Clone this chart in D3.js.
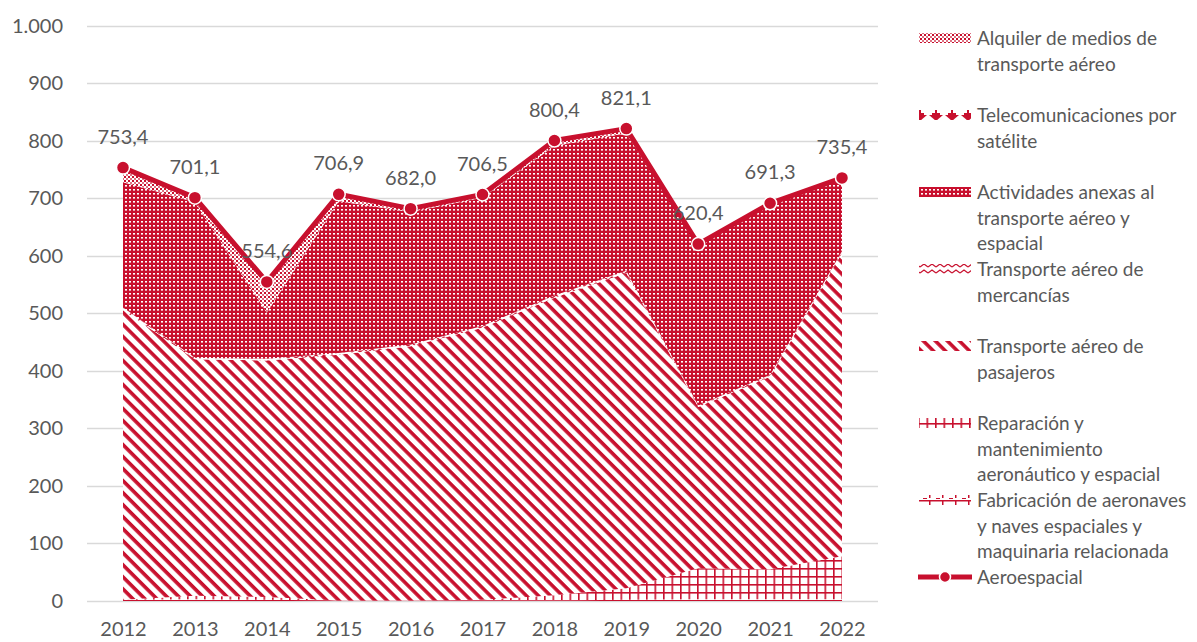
<html>
<style>
  body { margin: 0; background: #fff; }
  text { font-family: Lato, "Liberation Sans", sans-serif; fill: #595959; }
</style>
<body>
<script src="https://cdn.jsdelivr.net/npm/d3@7"></script>
<svg id="chart" width="1197" height="642"></svg>
<script>
// data (millones)
var years = ["2012","2013","2014","2015","2016","2017","2018","2019","2020","2021","2022"];
var fabricacion = [2, 3, 2, 1, 1, 1, 1, 2, 3, 3, 3];
var reparacion  = [0, 6, 5, 0, 0, 1, 9, 20, 54, 52, 75];
var pasajeros   = [504, 411, 411, 427, 442, 473, 517, 548, 280, 335, 527];
var mercancias  = [4, 3, 3, 3, 3, 3, 4, 4, 3, 3, 3];
var actividades = [218, 270, 80, 264, 230, 223, 260, 239, 278, 296, 125];
var telecom     = [0.5, 0.5, 0.5, 0.5, 0.5, 0.5, 0.5, 0.5, 0.5, 0.5, 0.5];
var alquiler    = [25, 8, 53, 11, 6, 5, 9, 8, 2, 2, 2];
var aeroespacial = [753.4, 701.1, 554.6, 706.9, 682.0, 706.5, 800.4, 821.1, 620.4, 691.3, 735.4];
var yTicks = [0, 100, 200, 300, 400, 500, 600, 700, 800, 900, 1000];

var red = "#C8102E";
var svg = d3.select("#chart");
var defs = svg.append("defs");

var es = d3.formatLocale({decimal: ",", thousands: ".", grouping: [3], currency: ["", " €"]});
var fmtTick = es.format(",.0f");
var fmtVal = es.format(",.1f");

var x = d3.scalePoint().domain(years).range([123, 842]);
var y = d3.scaleLinear().domain([0, 1000]).range([601, 25.7]);

// ---- fill patterns (Excel style)
function pattern(id, w, h, rot) {
  var p = defs.append("pattern").attr("id", id)
    .attr("patternUnits", "userSpaceOnUse").attr("width", w).attr("height", h);
  if (rot) p.attr("patternTransform", "rotate(" + rot + ")");
  return p;
}
// diagonal stripes
var p1 = pattern("pPas", 8.5, 8.5, -45);
p1.append("rect").attr("width", 8.5).attr("height", 8.5).attr("fill", "#fff");
p1.append("line").attr("x1", 2).attr("x2", 2).attr("y1", 0).attr("y2", 8.5)
  .attr("stroke", red).attr("stroke-width", 3.6);
// dark dotted
var p2 = pattern("pAct", 4, 4);
p2.append("rect").attr("width", 4).attr("height", 4).attr("fill", red);
p2.append("rect").attr("x", 1).attr("y", 1).attr("width", 2).attr("height", 1.6).attr("fill", "#fff");
// light dotted
var p3 = pattern("pAlq", 4, 4);
p3.append("rect").attr("width", 4).attr("height", 4).attr("fill", "#fff");
p3.append("rect").attr("width", 2).attr("height", 2).attr("fill", red);
p3.append("rect").attr("x", 2).attr("y", 2).attr("width", 2).attr("height", 2).attr("fill", red).attr("opacity", 0.6);
// zigzag
var p4 = pattern("pMer", 8, 6);
p4.append("rect").attr("width", 8).attr("height", 6).attr("fill", "#fff");
p4.append("path").attr("d", "M0,4 L4,1 L8,4").attr("fill", "none").attr("stroke", red).attr("stroke-width", 1.2);
// triangles
var p5 = pattern("pTel", 16, 10);
p5.append("rect").attr("width", 16).attr("height", 10).attr("fill", "#fff");
p5.append("path").attr("d", "M1,0 L15,0 L8,6 Z").attr("fill", red);
p5.append("rect").attr("x", 7).attr("y", 5).attr("width", 2).attr("height", 4).attr("fill", red);
p5.append("rect").attr("x", 4).attr("y", 8).attr("width", 8).attr("height", 2).attr("fill", red);
// grid
var p6 = pattern("pRep", 8.5, 8);
p6.append("rect").attr("width", 8.5).attr("height", 8).attr("fill", "#fff");
p6.append("rect").attr("x", 0).attr("y", 0).attr("width", 1.6).attr("height", 8).attr("fill", red);
p6.append("rect").attr("x", 0).attr("y", 0).attr("width", 8.5).attr("height", 1.6).attr("fill", red);
// ladder
var p7 = pattern("pFab", 13, 10);
p7.append("rect").attr("width", 13).attr("height", 10).attr("fill", "#fff");
p7.append("rect").attr("x", 0).attr("y", 0).attr("width", 13).attr("height", 1.5).attr("fill", red);
p7.append("rect").attr("x", 6).attr("y", 0).attr("width", 1.5).attr("height", 8).attr("fill", red);
p7.append("rect").attr("x", 0).attr("y", 8).attr("width", 4).attr("height", 1).attr("fill", red);

// ---- gridlines and axes
svg.append("g").selectAll("line").data(yTicks).enter().append("line")
  .attr("x1", 87).attr("x2", 878)
  .attr("y1", function(d) { return Math.round(y(d)) + 0.5; })
  .attr("y2", function(d) { return Math.round(y(d)) + 0.5; })
  .attr("stroke", "#D9D9D9").attr("stroke-width", 1.3);

var yAxis = svg.append("g").attr("transform", "translate(73,0)")
  .call(d3.axisLeft(y).tickValues(yTicks).tickFormat(fmtTick).tickSize(0).tickPadding(10));
yAxis.select(".domain").remove();
yAxis.selectAll("text").style("font-size", "20px").attr("fill", "#595959");

var xAxis = svg.append("g").attr("transform", "translate(0,601)")
  .call(d3.axisBottom(x).tickSize(0).tickPadding(21));
xAxis.select(".domain").remove();
xAxis.selectAll("text").style("font-size", "20px").attr("fill", "#595959");

// ---- stacked areas
var series = [
  {key: "fab", vals: fabricacion, fill: "url(#pFab)"},
  {key: "rep", vals: reparacion, fill: "url(#pRep)"},
  {key: "pas", vals: pasajeros, fill: "url(#pPas)"},
  {key: "mer", vals: mercancias, fill: "url(#pMer)"},
  {key: "act", vals: actividades, fill: "url(#pAct)"},
  {key: "tel", vals: telecom, fill: "url(#pTel)"},
  {key: "alq", vals: alquiler, fill: "url(#pAlq)"}
];
var rows = years.map(function(yr, i) {
  var r = {year: yr};
  series.forEach(function(s) { r[s.key] = s.vals[i]; });
  return r;
});
var stacked = d3.stack().keys(series.map(function(s) { return s.key; }))(rows);

var area = d3.area()
  .x(function(d) { return x(d.data.year); })
  .y0(function(d) { return y(d[0]); })
  .y1(function(d) { return y(d[1]); });

svg.append("g").selectAll("path").data(stacked).enter().append("path")
  .attr("d", area)
  .attr("fill", function(d, i) { return series[i].fill; });

// ---- total line
var line = d3.line()
  .x(function(d, i) { return x(years[i]); })
  .y(function(d) { return y(d); });
svg.append("path").datum(aeroespacial).attr("d", line)
  .attr("fill", "none").attr("stroke", red).attr("stroke-width", 5).attr("stroke-linejoin", "round");
svg.append("g").selectAll("circle").data(aeroespacial).enter().append("circle")
  .attr("cx", function(d, i) { return x(years[i]); })
  .attr("cy", function(d) { return y(d); })
  .attr("r", 6.5).attr("fill", red).attr("stroke", "#fff").attr("stroke-width", 1.5);
svg.append("g").selectAll("text").data(aeroespacial).enter().append("text")
  .attr("x", function(d, i) { return x(years[i]); })
  .attr("y", function(d) { return y(d) - 24; })
  .attr("text-anchor", "middle")
  .style("font-size", "20px")
  .text(function(d) { return fmtVal(d); });

// ---- legend
var legend = [
  {lines: ["Alquiler de medios de", "transporte aéreo"], fill: "url(#pAlq)"},
  {lines: ["Telecomunicaciones por", "satélite"], fill: "url(#pTel)"},
  {lines: ["Actividades anexas al", "transporte aéreo y", "espacial"], fill: "url(#pAct)"},
  {lines: ["Transporte aéreo de", "mercancías"], fill: "url(#pMer)"},
  {lines: ["Transporte aéreo de", "pasajeros"], fill: "url(#pPas)"},
  {lines: ["Reparación y", "mantenimiento", "aeronáutico y espacial"], fill: "url(#pRep)"},
  {lines: ["Fabricación de aeronaves", "y naves espaciales y", "maquinaria relacionada"], fill: "url(#pFab)"},
  {lines: ["Aeroespacial"], fill: null}
];
var lg = svg.append("g").selectAll("g").data(legend).enter().append("g")
  .attr("transform", function(d, i) { return "translate(0," + (38 + i * 77) + ")"; });
lg.filter(function(d) { return d.fill; }).append("rect")
  .attr("x", 919).attr("y", -5).attr("width", 52).attr("height", 10)
  .attr("fill", function(d) { return d.fill; });
var lgLine = lg.filter(function(d) { return !d.fill; });
lgLine.append("line").attr("x1", 918).attr("x2", 972).attr("y1", 0).attr("y2", 0)
  .attr("stroke", red).attr("stroke-width", 5);
lgLine.append("circle").attr("cx", 945).attr("cy", 0).attr("r", 5.5)
  .attr("fill", red).attr("stroke", "#fff").attr("stroke-width", 1.5);
lg.each(function(d) {
  var t = d3.select(this).append("text").attr("x", 977).attr("y", 7).style("font-size", "19px");
  d.lines.forEach(function(s, j) {
    t.append("tspan").attr("x", 977).attr("dy", j ? 25.7 : 0).text(s);
  });
});
</script>
</body>
</html>
